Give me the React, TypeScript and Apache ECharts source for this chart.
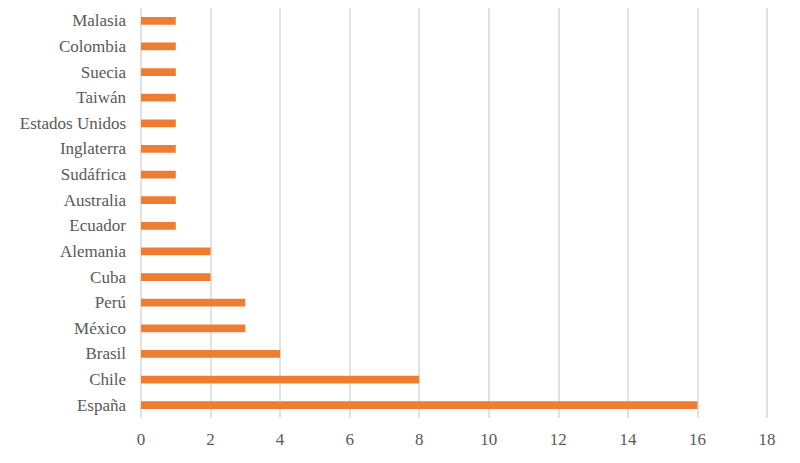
import React, { useEffect, useRef } from "react";
import * as echarts from "echarts";

const countries = [
  "España", "Chile", "Brasil", "México", "Perú", "Cuba", "Alemania", "Ecuador",
  "Australia", "Sudáfrica", "Inglaterra", "Estados Unidos", "Taiwán", "Suecia", "Colombia", "Malasia",
];
const counts = [16, 8, 4, 3, 3, 2, 2, 1, 1, 1, 1, 1, 1, 1, 1, 1];

const FONT = "Liberation Serif";

export default function App() {
  const ref = useRef<HTMLDivElement>(null);
  useEffect(() => {
    const chart = echarts.init(ref.current!, null, { renderer: "svg" });
    chart.setOption({
      animation: false,
      backgroundColor: "#ffffff",
      grid: { left: 141, right: 33, top: 8, bottom: 45, containLabel: false },
      xAxis: {
        type: "value",
        min: 0,
        max: 18,
        interval: 2,
        axisLine: { show: false },
        axisTick: { show: false },
        splitLine: { show: true, lineStyle: { color: "#D9D9D9", width: 1.5 } },
        axisLabel: {
          color: "#595959",
          fontFamily: FONT,
          fontSize: 17,
          margin: 13,
        },
      },
      yAxis: {
        type: "category",
        data: countries,
        axisLine: { show: false },
        axisTick: { show: false },
        axisLabel: {
          color: "#595959",
          fontFamily: FONT,
          fontSize: 17,
          margin: 15,
        },
      },
      series: [
        {
          type: "bar",
          data: counts,
          barWidth: "30%",
          itemStyle: { color: "#ED7D31" },
        },
      ],
    });
    return () => chart.dispose();
  }, []);
  return <div ref={ref} style={{ width: 800, height: 463, position: "absolute", left: 0, top: 0 }} />;
}
